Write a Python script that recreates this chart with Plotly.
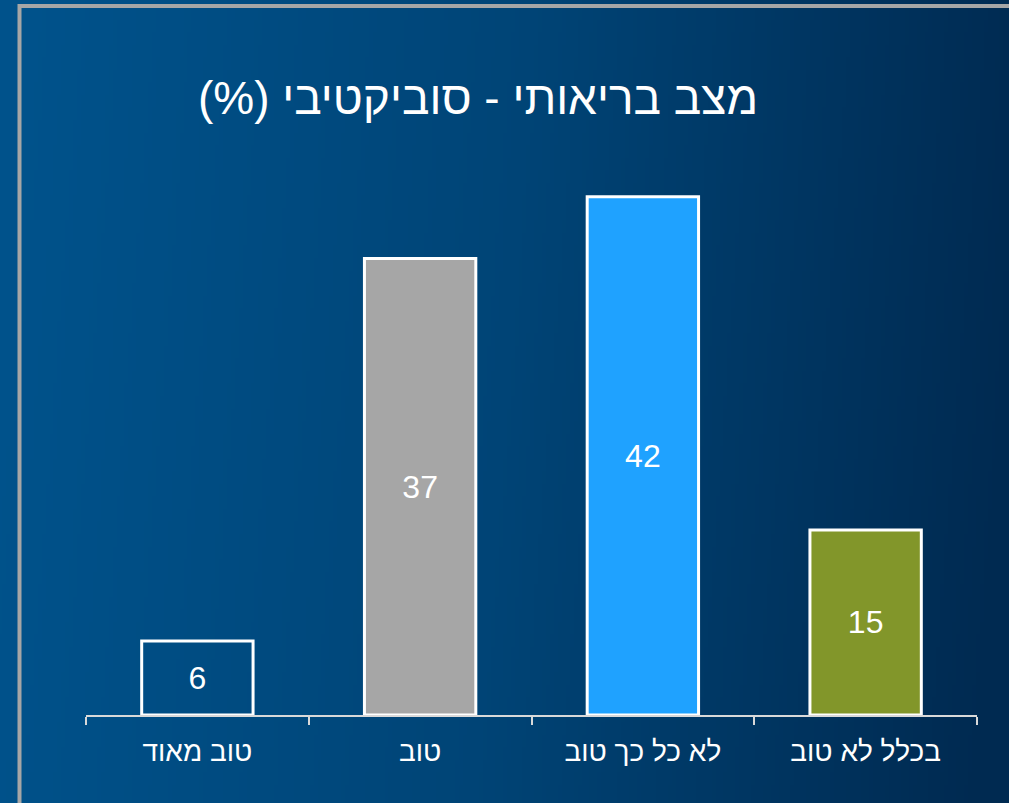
import base64, struct, zlib
import plotly.graph_objects as go

# ---- data ----
categories = ["טוב מאוד", "טוב", "לא כל כך טוב", "בכלל לא טוב"]
values = [6, 37, 42, 15]
bar_colors = ["rgba(0,0,0,0)", "#a6a6a6", "#1fa2ff", "#82962a"]
title_text = "מצב בריאותי - סוביקטיבי (%)\u200f"

W, H = 1009, 803
L, R, T, B = 86, 32, 98, 88
PW, PH = W - L - R, H - T - B


def px_x(px):
    return (px - L) / PW


def px_y(py):
    return (H - B - py) / PH


# ---- background gradient as a tiny PNG ----
def make_png(w, h):
    stops = [(0.0, (0, 82, 139)), (0.5, (0, 68, 118)), (1.0, (0, 42, 81))]

    def col(t):
        t = max(0.0, min(1.0, t))
        for (t0, c0), (t1, c1) in zip(stops, stops[1:]):
            if t <= t1:
                f = (t - t0) / (t1 - t0)
                return tuple(int(round(a + (b - a) * f)) for a, b in zip(c0, c1))
        return stops[-1][1]

    raw = b""
    for j in range(h):
        row = b"\x00"
        for i in range(w):
            t = i / (w - 1) + 0.06 * (j / (h - 1)) - 0.03
            row += bytes(col(t))
        raw += row

    def chunk(tag, data):
        c = struct.pack(">I", len(data)) + tag + data
        return c + struct.pack(">I", zlib.crc32(tag + data) & 0xFFFFFFFF)

    png = b"\x89PNG\r\n\x1a\n"
    png += chunk(b"IHDR", struct.pack(">IIBBBBB", w, h, 8, 2, 0, 0, 0))
    png += chunk(b"IDAT", zlib.compress(raw, 9))
    png += chunk(b"IEND", b"")
    return "data:image/png;base64," + base64.b64encode(png).decode()


bg = make_png(256, 64)

font_family = "Liberation Sans, Arial, sans-serif"

fig = go.Figure(
    go.Bar(
        x=categories,
        y=values,
        text=[str(v) for v in values],
        textposition="inside",
        insidetextanchor="middle",
        textangle=0,
        constraintext="none",
        textfont=dict(color="white", size=32, family=font_family),
        marker=dict(color=bar_colors, line=dict(color="white", width=3)),
        hoverinfo="skip",
    )
)

fig.update_layout(
    width=W,
    height=H,
    margin=dict(l=L, r=R, t=T, b=B),
    paper_bgcolor="#003d6e",
    plot_bgcolor="rgba(0,0,0,0)",
    bargap=0.5,
    showlegend=False,
    font=dict(family=font_family, color="white"),
    images=[
        dict(
            source=bg,
            xref="paper",
            yref="paper",
            x=px_x(0),
            y=px_y(0),
            sizex=W / PW,
            sizey=H / PH,
            xanchor="left",
            yanchor="top",
            sizing="stretch",
            layer="below",
        )
    ],
    shapes=[
        dict(type="line", xref="paper", yref="paper",
             x0=px_x(18), x1=px_x(W + 5), y0=px_y(6), y1=px_y(6),
             line=dict(color="#a6a6a6", width=4)),
        dict(type="line", xref="paper", yref="paper",
             x0=px_x(19.5), x1=px_x(19.5), y0=px_y(4), y1=px_y(H + 5),
             line=dict(color="#a6a6a6", width=4)),
    ],
    annotations=[
        dict(
            text=title_text,
            xref="paper",
            yref="paper",
            x=px_x(478),
            y=px_y(98),
            xanchor="center",
            yanchor="middle",
            showarrow=False,
            font=dict(size=46, color="white", family=font_family),
        )
    ],
)

fig.update_xaxes(
    type="category",
    range=[-0.5, 3.5],
    showline=True,
    linecolor="#d9d9d9",
    linewidth=2,
    ticks="outside",
    tickson="boundaries",
    ticklen=8,
    tickwidth=2,
    tickcolor="#d9d9d9",
    ticklabelstandoff=10,
    tickfont=dict(size=28, color="white", family=font_family),
    showgrid=False,
    zeroline=False,
    fixedrange=True,
)
fig.update_yaxes(visible=False, range=[0, 50], fixedrange=True)

fig.write_html(
    "out.html",
    config={"displayModeBar": False, "staticPlot": True},
    post_script="document.body.style.margin='0';document.body.style.overflow='hidden';",
)
